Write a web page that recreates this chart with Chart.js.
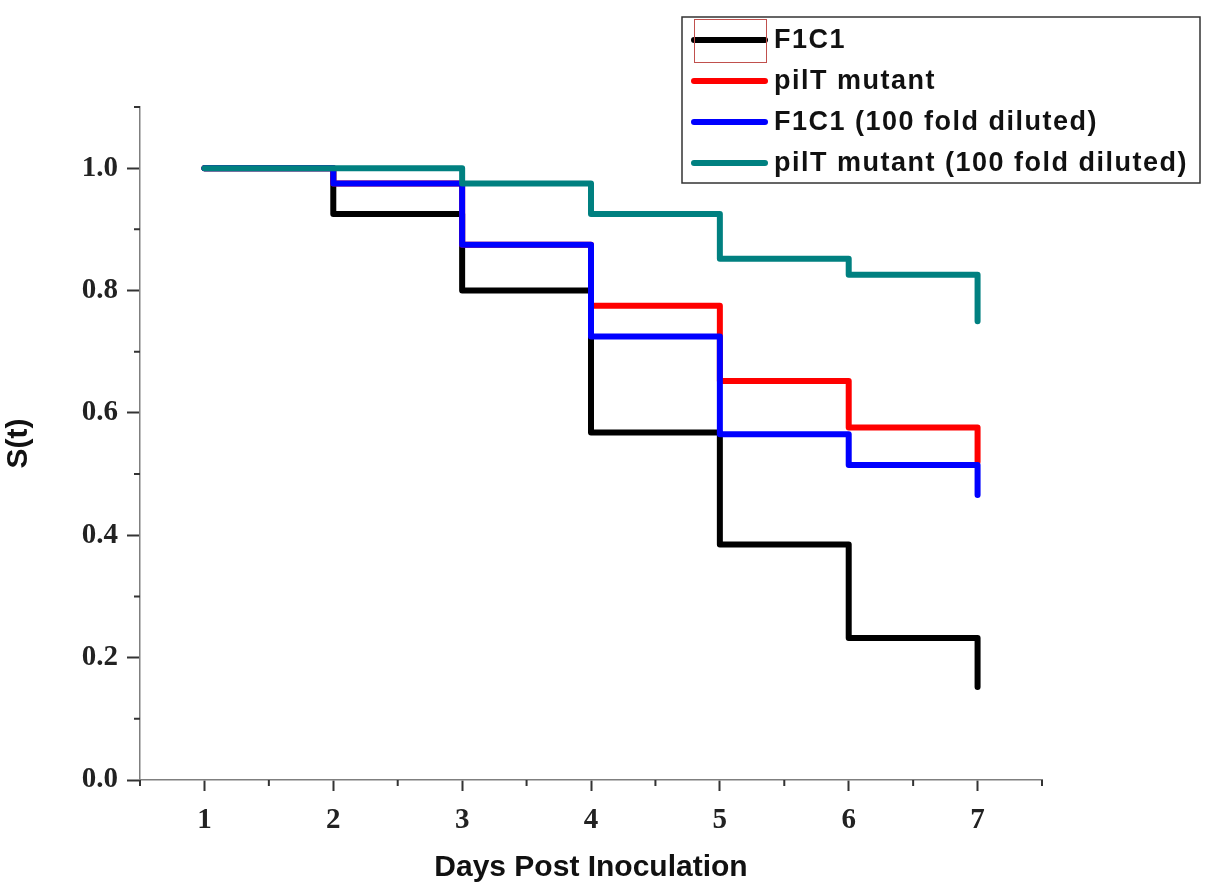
<!DOCTYPE html>
<html>
<head>
<meta charset="utf-8">
<script src="https://cdn.jsdelivr.net/npm/chart.js@4/dist/chart.umd.min.js"></script>
<style>
    body { margin: 0; background: #fff; }
</style>
</head>
<body>
<canvas id="survival" width="1212" height="886"></canvas>
<script>
// days post inoculation and Kaplan-Meier survival for each group
var days = [1, 2, 3, 4, 5, 6, 7];
var f1c1 = [1.0, 0.925, 0.8, 0.568, 0.385, 0.232, 0.152];
var pilT = [1.0, 0.975, 0.875, 0.775, 0.652, 0.576, 0.52];
var f1c1Diluted = [1.0, 0.975, 0.875, 0.725, 0.565, 0.515, 0.466];
var pilTDiluted = [1.0, 1.0, 0.975, 0.925, 0.852, 0.826, 0.75];

var seriesNames = ["F1C1", "pilT mutant", "F1C1 (100 fold diluted)", "pilT mutant (100 fold diluted)"];
var seriesColors = ["#000000", "#ff0000", "#0000ff", "#008080"];

var xTicks = [1, 2, 3, 4, 5, 6, 7];
var xMinor = [0.5, 1.5, 2.5, 3.5, 4.5, 5.5, 6.5, 7.5];
var yTicks = [0.0, 0.2, 0.4, 0.6, 0.8, 1.0];
var yMinor = [0.1, 0.3, 0.5, 0.7, 0.9, 1.1];

function toPoints(values) {
    return days.map(function (d, i) { return { x: d, y: values[i] }; });
}

function makeDataset(i, values, order) {
    return {
        label: seriesNames[i],
        data: toPoints(values),
        borderColor: seriesColors[i],
        backgroundColor: seriesColors[i],
        borderWidth: 6,
        borderCapStyle: 'round',
        borderJoinStyle: 'round',
        stepped: true,
        pointRadius: 0,
        fill: false,
        order: order
    };
}

// minor ticks and the boxed legend are drawn by hand
var extras = {
    id: 'extras',
    afterDraw: function (chart) {
        var ctx = chart.ctx;
        var xs = chart.scales.x, ys = chart.scales.y;
        ctx.save();
        ctx.strokeStyle = '#333';
        ctx.lineWidth = 2;
        ctx.beginPath();
        xMinor.forEach(function (v) {
            var px = xs.getPixelForValue(v);
            ctx.moveTo(px, xs.top);
            ctx.lineTo(px, xs.top + 6);
        });
        yMinor.forEach(function (v) {
            var py = ys.getPixelForValue(v);
            ctx.moveTo(ys.right, py);
            ctx.lineTo(ys.right - 6, py);
        });
        ctx.stroke();

        // legend
        ctx.strokeStyle = '#333';
        ctx.lineWidth = 1.5;
        ctx.strokeRect(682, 17, 518, 166);
        ctx.font = 'bold 27px "Liberation Sans", Arial, sans-serif';
        ctx.letterSpacing = '1.5px';
        ctx.textBaseline = 'middle';
        ctx.fillStyle = '#111';
        var rows = [40, 81, 122, 163];
        chart.data.datasets.forEach(function (ds, i) {
            ctx.strokeStyle = ds.borderColor;
            ctx.lineWidth = 6;
            ctx.lineCap = 'round';
            ctx.beginPath();
            ctx.moveTo(694, rows[i]);
            ctx.lineTo(765, rows[i]);
            ctx.stroke();
            ctx.fillText(ds.label, 774, rows[i] + 1);
        });
        ctx.strokeStyle = '#c0504d';
        ctx.lineWidth = 1;
        ctx.strokeRect(694.5, 19.5, 72, 43);
        ctx.restore();
    }
};

var tickFont = { family: '"Liberation Serif", "Times New Roman", serif', size: 29, weight: 'bold' };
var titleFont = { family: '"Liberation Sans", Arial, sans-serif', size: 30, weight: 'bold' };

new Chart(document.getElementById('survival'), {
    type: 'line',
    data: {
        datasets: [
            makeDataset(0, f1c1, 3),
            makeDataset(1, pilT, 2),
            makeDataset(2, f1c1Diluted, 1),
            makeDataset(3, pilTDiluted, 0)
        ]
    },
    options: {
        responsive: false,
        animation: false,
        layout: { padding: { top: 107, right: 170, left: 0, bottom: 0 } },
        plugins: {
            legend: { display: false },
            tooltip: { enabled: false }
        },
        scales: {
            x: {
                type: 'linear',
                min: 0.5,
                max: 7.5,
                afterBuildTicks: function (s) {
                    s.ticks = xTicks.map(function (v) { return { value: v }; });
                },
                afterFit: function (s) { s.height = 106; },
                ticks: {
                    font: tickFont,
                    color: '#222',
                    padding: 12,
                    callback: function (v) { return String(v); }
                },
                grid: {
                    drawOnChartArea: false,
                    tickLength: 11,
                    tickWidth: 2,
                    tickColor: '#333'
                },
                border: { color: '#7f7f7f', width: 1.5 },
                title: {
                    display: true,
                    text: 'Days Post Inoculation',
                    font: titleFont,
                    color: '#111',
                    padding: { top: 0, bottom: 0 }
                }
            },
            y: {
                type: 'linear',
                min: 0,
                max: 1.1,
                afterBuildTicks: function (s) {
                    s.ticks = yTicks.map(function (v) { return { value: v }; });
                },
                afterFit: function (s) { s.width = 140; },
                ticks: {
                    font: tickFont,
                    color: '#222',
                    padding: 9,
                    callback: function (v) { return Number(v).toFixed(1); }
                },
                grid: {
                    drawOnChartArea: false,
                    tickLength: 13,
                    tickWidth: 2,
                    tickColor: '#333'
                },
                border: { color: '#7f7f7f', width: 1.5 },
                title: {
                    display: true,
                    text: 'S(t)',
                    font: titleFont,
                    color: '#111',
                    padding: { top: 1, bottom: 0 }
                }
            }
        }
    },
    plugins: [extras]
});
</script>
</body>
</html>
